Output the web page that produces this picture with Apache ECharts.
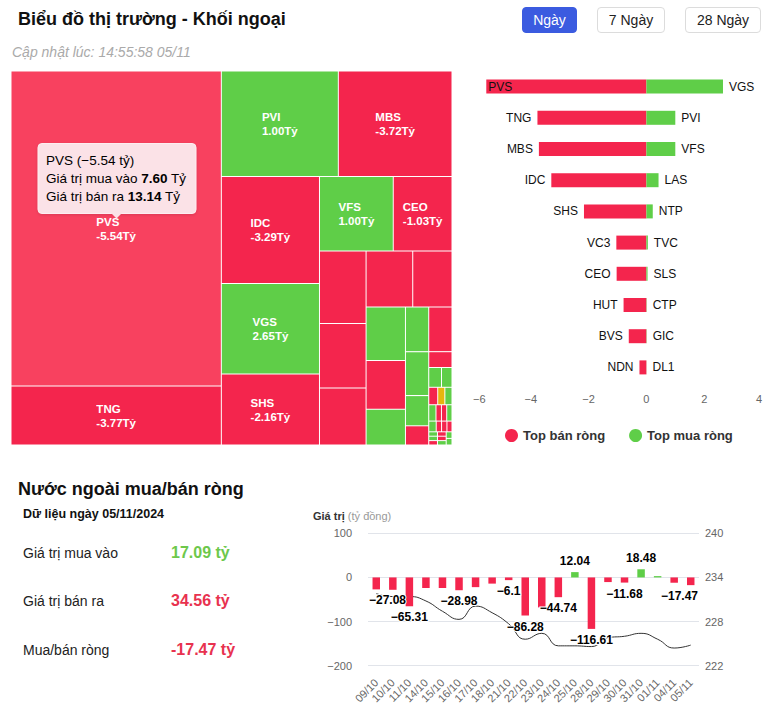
<!DOCTYPE html>
<html><head><meta charset="utf-8">
<script src="https://cdn.jsdelivr.net/npm/echarts@6.0.0/dist/echarts.min.js"></script>
<style>
html,body{margin:0;padding:0;background:#fff;}
body{width:776px;height:713px;position:relative;overflow:hidden;font-family:"Liberation Sans",Arial,sans-serif;}
#chart{position:absolute;left:0;top:0;width:776px;height:713px;}
#probe{position:absolute;left:-2000px;top:0;width:776px;height:713px;}
.t{position:absolute;white-space:nowrap;}
.btn{position:absolute;top:7px;height:26px;box-sizing:border-box;border-radius:4px;display:flex;align-items:center;justify-content:center;font-size:14px;color:#222;border:1px solid #dcdcdc;background:#fff;}
</style></head>
<body>
<div id="chart"></div>
<div id="probe"></div>
<div class="t" style="left:18px;top:8px;font-size:18px;line-height:22px;font-weight:bold;color:#111;">Biểu đồ thị trường - Khối ngoại</div>
<div class="t" style="left:12px;top:44px;font-size:14px;line-height:17px;font-style:italic;color:#aaa;">Cập nhật lúc: 14:55:58 05/11</div>
<div class="btn" style="left:522px;width:55px;background:#3b5be0;border-color:#3b5be0;color:#fff;">Ngày</div>
<div class="btn" style="left:597px;width:68px;">7 Ngày</div>
<div class="btn" style="left:685px;width:76px;">28 Ngày</div>
<div class="t" style="left:18px;top:478px;font-size:18px;line-height:22px;font-weight:bold;color:#111;">Nước ngoài mua/bán ròng</div>
<div class="t" style="left:23px;top:506px;font-size:12.5px;line-height:16px;font-weight:bold;color:#111;">Dữ liệu ngày 05/11/2024</div>
<div class="t" style="left:23px;top:544px;font-size:14px;line-height:18px;color:#222;">Giá trị mua vào</div>
<div class="t" style="left:23px;top:592px;font-size:14px;line-height:18px;color:#222;">Giá trị bán ra</div>
<div class="t" style="left:23px;top:641px;font-size:14px;line-height:18px;color:#222;">Mua/bán ròng</div>
<div class="t" id="vBuy" style="left:171px;top:543px;font-size:16px;line-height:20px;font-weight:bold;color:#6dc84b;"></div>
<div class="t" id="vSell" style="left:171px;top:591px;font-size:16px;line-height:20px;font-weight:bold;color:#e8324f;"></div>
<div class="t" id="vNet" style="left:171px;top:640px;font-size:16px;line-height:20px;font-weight:bold;color:#e8324f;"></div>
<div class="t" style="left:313px;top:509px;font-size:11px;line-height:14px;color:#999;"><b style="color:#333">Giá trị</b> (tỷ đồng)</div>
<script>
// ---------- DATA ----------
// Summary of the day (tỷ đồng)
const dayBuy = 17.09;
const daySell = 34.56;
const dayNet = -17.47;

// Treemap: tickers, total traded value (buy + sell, tỷ) and net value (tỷ)
const tmTickers = ['PVS','TNG','PVI','MBS','IDC','VGS','SHS','VFS','CEO','VC3','HUT','BVS','','NDN','LAS','','NTP','TVC','','SLS','CTP','','','GIC','DL1','','','','','','','','','','','','','','','','','',''];
const tmTotal = [20.74,3.88,3.86,3.75,3.29,2.78,2.18,1.72,1.37,1.06,0.94,0.83,0.82,0.69,0.66,0.60,0.44,0.325,0.325,0.32,0.22,0.14,0.115,0.079,0.065,0.049,0.039,0.039,0.037,0.028,0.027,0.027,0.025,0.018,0.018,0.017,0.012,0.012,0.012,0.012,0.012,0.012,0.012,0.012];
const tmNet = [-5.54,-3.77,1.00,-3.72,-3.29,2.65,-2.16,1.00,-1.03,-1.04,-0.79,-0.61,-0.20,-0.24,0.42,-0.10,0.22,0.05,-0.05,0.04,0.01,-0.02,-0.02,0.01,0.005,-0.01,0,0.005,0.005,-0.005,-0.005,0.005,0.005,-0.005,-0.005,-0.005,0.003,0.003,-0.003,-0.003,-0.003,0.003,0.003,0.003];
// grouping of the treemap cells (indices into the arrays above)
const tmGroups = [0, 1, [2, 3, [[[4, 5], 6], [7, 8, [[9, 10, 11], [12, 13, [[14, 15, 16], [17, 18, [[19, 20, 21], [22, [23,24,25,26,27,28,29,30,31,32,33,34,35,36,37,38,39,40,41,42,43]]]]]]]]]]];
const hoveredTicker = 'PVS';

// Top net sell / net buy (tỷ)
const sellNames = ['PVS','TNG','MBS','IDC','SHS','VC3','CEO','HUT','BVS','NDN'];
const sellValues = [-5.54,-3.77,-3.72,-3.29,-2.16,-1.04,-1.03,-0.79,-0.61,-0.24];
const buyNames = ['VGS','PVI','VFS','LAS','NTP','TVC','SLS','CTP','GIC','DL1'];
const buyValues = [2.65,1.00,1.00,0.42,0.22,0.05,0.04,0.01,0.01,0.003];

// Daily net foreign flow (tỷ đồng) and index (right axis)
const dates = ['09/10','10/10','11/10','14/10','15/10','16/10','17/10','18/10','21/10','22/10','23/10','24/10','25/10','28/10','29/10','30/10','31/10','01/11','04/11','05/11'];
const netFlow = [-27.08,-28,-65.31,-24,-24,-28.98,-22,-14,-6.1,-86.28,-68,-44.74,12.04,-116.61,-10.5,-11.68,18.48,3,-12,-17.47];
const indexLine = [231.8,231.4,231.4,230.8,229.4,228.3,230.1,229.2,227.7,225.6,226.4,224.7,224.7,224.6,225.8,226.0,226.4,225.6,224.4,224.8];
const labeledDates = ['09/10','11/10','16/10','21/10','22/10','24/10','25/10','28/10','30/10','31/10','05/11'];

// ---------- STYLE ----------
const RED = '#f4254d', GREEN = '#5fce48', YELLOW = '#e6b60e';
const FONT = '"Liberation Sans", Arial, sans-serif';
const TM_LABEL_MIN = 1.2, TM_FONT = 11.5, TM_LH = 14;
const minus = v => String(v).replace('-', '\u2212');
const fmt2 = v => v.toFixed(2);
const tmLine2 = v => fmt2(v) + 'Tỷ';

document.getElementById('vBuy').textContent = fmt2(dayBuy) + ' tỷ';
document.getElementById('vSell').textContent = fmt2(daySell) + ' tỷ';
document.getElementById('vNet').textContent = fmt2(dayNet) + ' tỷ';

const leafByName = {};
function buildNode(spec) {
  if (Array.isArray(spec)) return { children: spec.map(buildNode) };
  const i = spec, net = tmNet[i];
  const node = {
    name: tmTickers[i],
    value: [tmTotal[i], net],
    itemStyle: { color: net > 0 ? GREEN : (net < 0 ? RED : YELLOW), borderWidth: 0.5, borderColor: '#fff' },
    label: { show: tmTotal[i] >= TM_LABEL_MIN }
  };
  if (tmTickers[i] === hoveredTicker) node.emphasis = { itemStyle: { color: '#f8415f', borderWidth: 0.5, borderColor: '#fff' }, label: { show: true } };
  if (tmTickers[i]) leafByName[tmTickers[i]] = node;
  return node;
}
const treeData = tmGroups.map(buildNode);

const hIdx = tmTickers.indexOf(hoveredTicker);
const hBuy = (tmTotal[hIdx] + tmNet[hIdx]) / 2, hSell = (tmTotal[hIdx] - tmNet[hIdx]) / 2;

const G0 = { left: 473, width: 289, top: 71, height: 312 };
const G1 = { left: 368, width: 331, top: 533.3, height: 132.4 };

function treemapSeries() {
  return {
    type: 'treemap', left: 11, top: 71, width: 441, height: 374,
    squareRatio: 2.1, sort: false, visibleMin: 0, roam: false, nodeClick: false,
    breadcrumb: { show: false },
    itemStyle: { borderWidth: 0, gapWidth: 0, borderColor: '#fff' },
    label: {
      show: true, position: 'inside',
      formatter: p => '{a|' + p.name + '}\n{a|' + tmLine2(p.data.value[1]) + '}',
      rich: { a: { color: '#fff', fontSize: TM_FONT, fontWeight: 'bold', lineHeight: TM_LH, align: 'left', fontFamily: FONT } }
    },
    upperLabel: { show: false },
    data: treeData
  };
}

// probe pass: let the library lay out the treemap, then centre each label block in its cell
try {
  const probe = echarts.init(document.getElementById('probe'), null, { renderer: 'svg', width: 776, height: 713 });
  probe.setOption({ animation: false, series: [treemapSeries()] });
  const sd = probe.getModel().getSeriesByIndex(0).getData();
  const ctx = document.createElement('canvas').getContext('2d');
  ctx.font = 'bold ' + TM_FONT + 'px ' + FONT;
  Object.keys(leafByName).forEach(name => {
    const node = leafByName[name];
    if (!node.label.show) return;
    const idx = sd.indexOfName(name);
    if (idx < 0) return;
    const lay = sd.getItemLayout(idx);
    if (!lay) return;
    const w = Math.max(ctx.measureText(name).width, ctx.measureText(tmLine2(node.value[1])).width);
    const bw = node.itemStyle.borderWidth;
    const cw = lay.width - 2 * bw, ch = lay.height - 2 * bw;
    node.label.padding = [Math.max(0, (ch - 2 * TM_LH) / 2), 0, 0, Math.max(0, (cw - w) / 2)];
  });
  probe.dispose();
} catch (e) { console.error(e); }
document.getElementById('probe').remove();

const chart = echarts.init(document.getElementById('chart'), null, { renderer: 'svg', width: 776, height: 713 });
const tipFill = '#fbe2e7';
const option = {
  animation: false,
  textStyle: { fontFamily: FONT },
  tooltip: { show: false },
  legend: {
    data: ['Top bán ròng', 'Top mua ròng'], left: 500, top: 424, icon: 'circle',
    itemWidth: 13, itemHeight: 13, itemGap: 24,
    textStyle: { fontSize: 13, fontWeight: 'bold', color: '#333' }
  },
  grid: [G0, G1],
  xAxis: [
    { gridIndex: 0, type: 'value', min: -6, max: 4, interval: 2, splitLine: { show: false }, axisLine: { show: false }, axisTick: { show: false },
      axisLabel: { color: '#666', fontSize: 11, margin: 10, formatter: minus, alignMinLabel: 'left', alignMaxLabel: 'right' } },
    { gridIndex: 1, type: 'category', data: dates, axisLine: { show: false }, axisTick: { show: false },
      axisLabel: { rotate: 45, interval: 0, color: '#666', fontSize: 11, margin: 15 } }
  ],
  yAxis: [
    { gridIndex: 0, type: 'category', data: sellNames, inverse: true, show: false },
    { gridIndex: 1, type: 'value', min: -200, max: 100, interval: 100, splitLine: { lineStyle: { color: '#e1e4ea' } },
      axisLine: { show: false }, axisTick: { show: false }, axisLabel: { color: '#666', fontSize: 11, margin: 16, formatter: minus } },
    { gridIndex: 1, type: 'value', position: 'right', min: 222, max: 240, interval: 6, splitLine: { show: false },
      axisLine: { show: false }, axisTick: { show: false }, axisLabel: { color: '#666', fontSize: 11, margin: 6 } }
  ],
  graphic: [{
    type: 'group', left: 37.5, top: 143, z: 100,
    children: [
      { type: 'rect', z: 100, shape: { x: 0, y: 0, width: 158, height: 70, r: 4 },
        style: { fill: tipFill, stroke: '#fdeef1', lineWidth: 1, shadowBlur: 3, shadowColor: 'rgba(0,0,0,0.12)', shadowOffsetY: 1 } },
      { type: 'polygon', z: 100, shape: { points: [[73, 69.5], [84, 69.5], [78.5, 75]] }, style: { fill: tipFill } },
      { type: 'text', z: 101, x: 8, y: 8,
        style: {
          text: '{n|' + hoveredTicker + ' (' + minus(fmt2(tmNet[hIdx])) + ' tỷ)}\n{n|Giá trị mua vào }{b|' + fmt2(hBuy) + '}{n| Tỷ}\n{n|Giá trị bán ra }{b|' + fmt2(hSell) + '}{n| Tỷ}',
          rich: {
            n: { fontSize: 13.5, color: '#333', lineHeight: 18, fontFamily: FONT },
            b: { fontSize: 13.5, color: '#333', fontWeight: 'bold', lineHeight: 18, fontFamily: FONT }
          }
        } }
    ]
  }],
  series: [
    treemapSeries(),
    {
      name: 'Top bán ròng', type: 'bar', xAxisIndex: 0, yAxisIndex: 0, data: sellValues,
      barWidth: 14, barGap: '-100%', itemStyle: { color: RED },
      label: { show: true, position: 'left', distance: 6, color: '#111', fontSize: 12, formatter: p => sellNames[p.dataIndex] },
      labelLayout: p => (p.labelRect.x < G0.left ? { dx: p.rect.x + 2 - p.labelRect.x } : {})
    },
    {
      name: 'Top mua ròng', type: 'bar', xAxisIndex: 0, yAxisIndex: 0, data: buyValues,
      barWidth: 14, barGap: '-100%', itemStyle: { color: GREEN },
      label: { show: true, position: 'right', distance: 6, color: '#111', fontSize: 12, formatter: p => buyNames[p.dataIndex] }
    },
    {
      type: 'line', xAxisIndex: 1, yAxisIndex: 2, data: indexLine, smooth: true, showSymbol: false,
      lineStyle: { color: '#333', width: 1 }, z: 1, silent: true
    },
    {
      type: 'bar', xAxisIndex: 1, yAxisIndex: 1, barWidth: 7.5, z: 2,
      data: netFlow.map((v, i) => ({
        value: v,
        itemStyle: { color: v >= 0 ? GREEN : RED },
        label: { show: labeledDates.indexOf(dates[i]) >= 0, position: v >= 0 ? 'top' : 'bottom' }
      })),
      label: { distance: 5, fontSize: 12, fontWeight: 'bold', color: '#000', textBorderColor: '#fff', textBorderWidth: 2, formatter: p => minus(p.value) },
      labelLayout: p => {
        const L = G1.left, R = G1.left + G1.width, r = p.labelRect;
        if (r.x < L) return { dx: L - r.x };
        if (r.x + r.width > R) return { dx: R - r.x - r.width };
        return {};
      }
    }
  ]
};
chart.setOption(option);
chart.dispatchAction({ type: 'highlight', seriesIndex: 0, name: hoveredTicker });
</script>
</body></html>
